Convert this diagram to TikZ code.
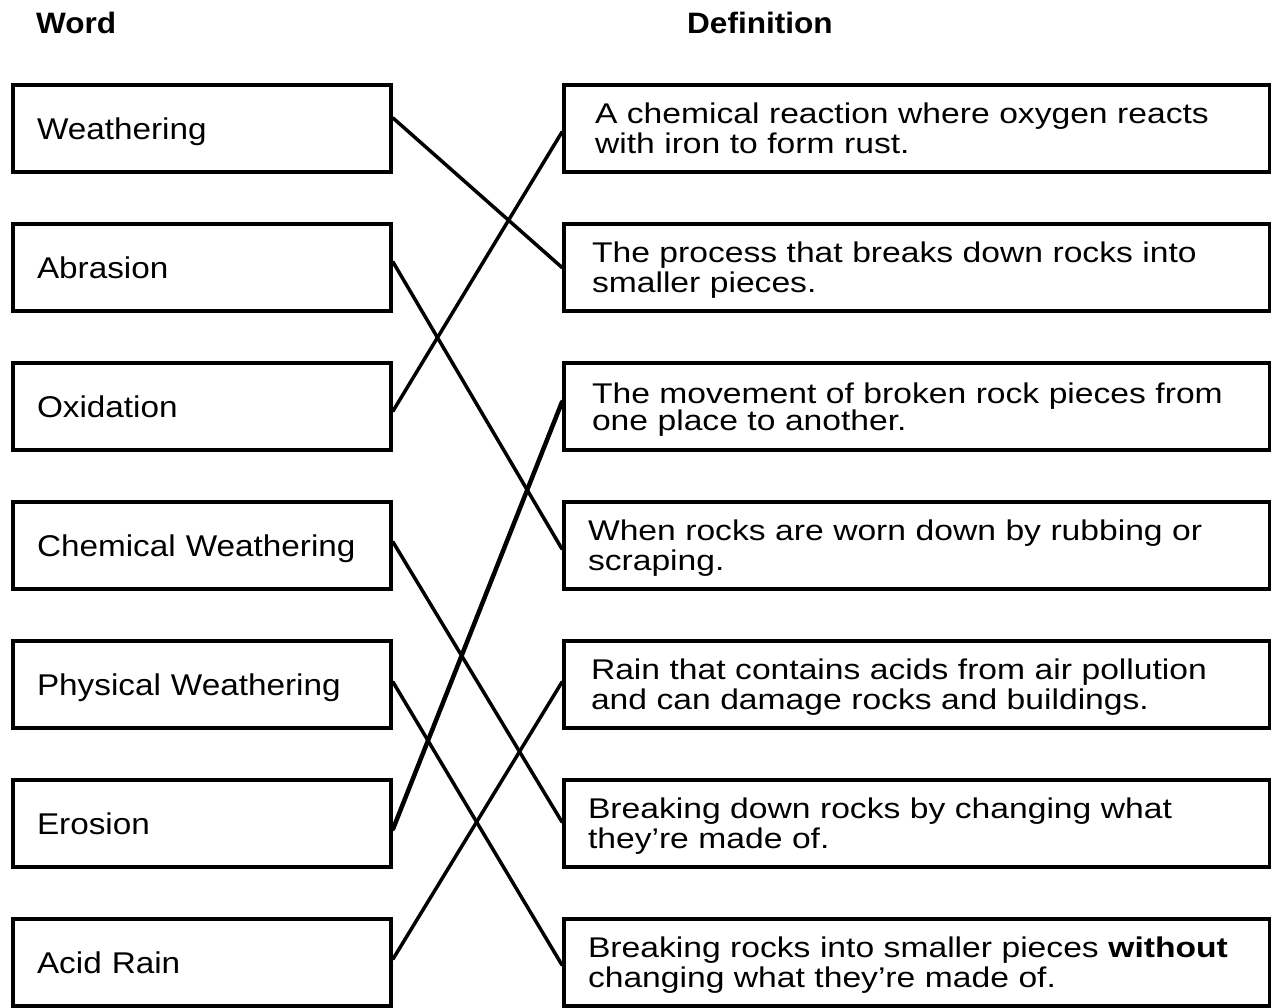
\documentclass[tikz,border=0pt]{standalone}
\usepackage{fontspec}
\setmainfont{Liberation Sans}
\newfontfamily\wordfont[FakeStretch=1.11]{Liberation Sans}
\newfontfamily\deffont[FakeStretch=1.18]{Liberation Sans}
\newfontfamily\headfont[FakeStretch=1.07]{Liberation Sans}
\begin{document}
\begin{tikzpicture}[x=1pt,y=-1pt,
  wordbox/.style={draw, line width=4pt, anchor=north west, minimum width=378pt, minimum height=87pt,
    inner xsep=24pt, inner ysep=0pt, text width=330pt, align=left,
    text height=21.5pt, text depth=0pt, font=\wordfont\fontsize{30}{30}\selectfont},
  defbox/.style={draw, line width=4pt, anchor=north west, minimum width=706pt, minimum height=87pt,
    inner xsep=26pt, inner ysep=0pt, text width=654pt, align=left,
    text height=20.5pt, text depth=30pt, font=\deffont\fontsize{28.5}{30}\selectfont},
  headtext/.style={anchor=base west, inner sep=0pt, font=\headfont\bfseries\fontsize{29.5}{29.5}\selectfont},
  link/.style={line width=3.5pt, line cap=round}
]
\useasboundingbox (0,0) rectangle (1271,1007);

\node[headtext] (hw) at (36,33) {Word};
\node[headtext] (hd) at (687,33) {Definition};

\node[wordbox] (w1) at (11,83) {Weathering};
\node[wordbox] (w2) at (11,222) {Abrasion};
\node[wordbox] (w3) at (11,361) {Oxidation};
\node[wordbox] (w4) at (11,500) {Chemical Weathering};
\node[wordbox] (w5) at (11,639) {Physical Weathering};
\node[wordbox] (w6) at (11,778) {Erosion};
\node[wordbox] (w7) at (11,917) {Acid Rain};

\node[defbox] (d1) at (562,83) {\hspace*{5pt}A chemical reaction where oxygen reacts\\\hspace*{5pt}with iron to form rust.};
\node[defbox] (d2) at (562,222) {\hspace*{2pt}The process that breaks down rocks into\\\hspace*{2pt}smaller pieces.};
\node[defbox, font=\deffont\fontsize{28.5}{27}\selectfont, text depth=27pt] (d3) at (562,361) {\hspace*{2pt}The movement of broken rock pieces from\\\hspace*{2pt}one place to another.};
\node[defbox] (d4) at (562,500) {\hspace*{-2pt}When rocks are worn down by rubbing or\\\hspace*{-2pt}scraping.};
\node[defbox] (d5) at (562,639) {\hspace*{1pt}Rain that contains acids from air pollution\\\hspace*{1pt}and can damage rocks and buildings.};
\node[defbox] (d6) at (562,778) {\hspace*{-2pt}Breaking down rocks by changing what\\\hspace*{-2pt}they’re made of.};
\node[defbox] (d7) at (562,917) {\hspace*{-2pt}Breaking rocks into smaller pieces \textbf{without}\\\hspace*{-2pt}changing what they’re made of.};

\draw[link] ([yshift=10.5pt]w1.east) -- (d2.west);
\draw[link] ([yshift=5.5pt]w2.east) -- ([yshift=-3.5pt]d4.west);
\draw[link] ([yshift=-4.5pt]w3.east) -- ([yshift=-3.5pt]d1.west);
\draw[link] ([yshift=3.5pt]w4.east) -- ([yshift=1.5pt]d6.west);
\draw[link] ([yshift=2.5pt]w5.east) -- ([yshift=-2.5pt]d7.west);
\draw[link, line width=4.5pt] ([yshift=-5.5pt]w6.east) -- ([yshift=4.5pt]d3.west);
\draw[link] ([yshift=3.5pt]w7.east) -- ([yshift=2.5pt]d5.west);
\end{tikzpicture}
\end{document}
